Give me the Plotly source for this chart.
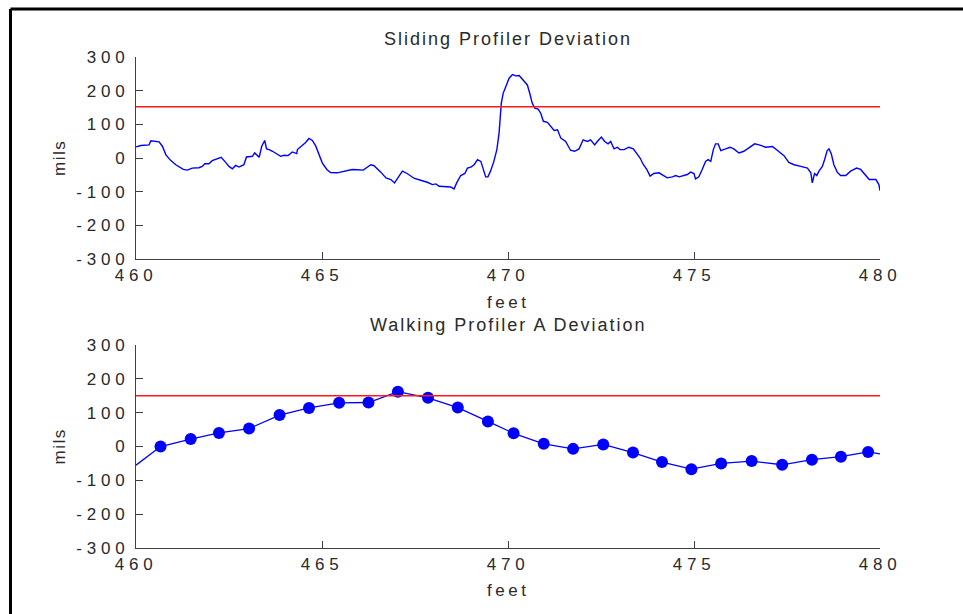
import plotly.graph_objects as go

# ---------------- data ----------------
slide_x = [460.0, 460.13, 460.35, 460.4, 460.62, 460.71, 460.8, 460.93, 461.07, 461.16, 461.27, 461.38,
           461.51, 461.69, 461.78, 461.85, 461.96, 462.05, 462.19, 462.29, 462.41, 462.5, 462.59, 462.68,
           462.77, 462.9, 462.97, 463.13, 463.19, 463.31, 463.38, 463.46, 463.51, 463.58, 463.67, 463.78,
           463.89, 463.98, 464.09, 464.2, 464.32, 464.34, 464.43, 464.56, 464.65, 464.74, 464.83, 464.92,
           465.01, 465.13, 465.23, 465.41, 465.59, 465.81, 465.95, 466.11, 466.31, 466.4, 466.58, 466.72,
           466.85, 466.95, 467.04, 467.16, 467.29, 467.47, 467.65, 467.83, 467.97, 468.06, 468.15, 468.32,
           468.46, 468.55, 468.62, 468.73, 468.84, 468.91, 469.0, 469.09, 469.18, 469.27, 469.34, 469.4,
           469.46, 469.53, 469.62, 469.7, 469.76, 469.79, 469.82, 469.87, 469.96, 470.03, 470.12, 470.21,
           470.3, 470.41, 470.52, 470.59, 470.65, 470.72, 470.81, 470.88, 470.95, 471.06, 471.15, 471.24,
           471.33, 471.42, 471.55, 471.68, 471.79, 471.91, 472.02, 472.13, 472.22, 472.33, 472.4, 472.51,
           472.6, 472.69, 472.76, 472.85, 472.94, 473.01, 473.12, 473.25, 473.37, 473.48, 473.55, 473.64,
           473.73, 473.82, 473.92, 474.06, 474.18, 474.28, 474.42, 474.51, 474.6, 474.71, 474.82, 474.91,
           475.0, 475.04, 475.13, 475.22, 475.31, 475.38, 475.45, 475.52, 475.58, 475.65, 475.72, 475.85,
           475.97, 476.07, 476.21, 476.34, 476.48, 476.63, 476.75, 476.93, 477.11, 477.24, 477.42, 477.55,
           477.69, 477.87, 478.05, 478.14, 478.18, 478.24, 478.3, 478.36, 478.45, 478.51, 478.58, 478.63,
           478.69, 478.76, 478.85, 478.94, 479.08, 479.21, 479.37, 479.48, 479.57, 479.71, 479.89, 479.97,
           480.0]
slide_y = [33, 37, 39, 51, 48, 35, 10, -7, -20, -27, -34, -36,
           -30, -29, -25, -17, -17, -8, -3, 2, -13, -25, -32, -22,
           -27, -20, 3, 5, 15, 2, 35, 52, 27, 25, 20, 13,
           5, 8, 7, 18, 13, 25, 33, 46, 58, 52, 36, 13,
           -15, -34, -43, -44, -40, -34, -35, -36, -20, -23, -42, -59,
           -64, -74, -59, -39, -46, -60, -66, -72, -79, -77, -84, -84,
           -86, -92, -74, -52, -46, -30, -27, -20, -5, -10, -35, -56,
           -56, -39, -10, 25, 74, 114, 163, 192, 217, 237, 248, 244,
           245, 232, 217, 190, 163, 148, 145, 133, 109, 106, 94, 82,
           84, 59, 49, 23, 20, 27, 54, 49, 54, 39, 49, 62,
           49, 42, 49, 27, 32, 25, 25, 32, 27, 10, 0, -20,
           -34, -54, -46, -44, -52, -59, -56, -52, -56, -52, -49, -42,
           -46, -62, -56, -34, -10, -5, -10, 25, 42, 42, 22, 27,
           32, 27, 15, 20, 30, 42, 39, 32, 34, 23, 7, -13,
           -20, -25, -30, -44, -74, -46, -52, -39, -25, -5, 22, 27,
           13, -20, -42, -52, -52, -39, -30, -34, -46, -64, -64, -79,
           -97]

walk_x = [460.66, 461.47, 462.23, 463.04, 463.86, 464.65, 465.46, 466.25, 467.04, 467.85,
          468.65, 469.46, 470.15, 470.96, 471.75, 472.56, 473.36, 474.14, 474.93, 475.73,
          476.55, 477.37, 478.17, 478.95, 479.68]
walk_y = [0, 22, 40, 53, 93, 114, 129, 130, 162, 144,
          115, 74, 39, 8, -7, 6, -18, -46, -67, -50,
          -43, -54, -39, -30, -16]
walk_edge_x = [460.0, 480.0]
walk_edge_y = [-55, -22]

threshold_top = 152
threshold_bottom = 150
x_range = [460, 480]
y_range = [-300, 300]
y_ticks = [-300, -200, -100, 0, 100, 200, 300]
y_ticktext = ["-300", "-200", "-100", "0", "100", "200", "300"]
x_ticks = [460, 465, 470, 475, 480]
x_ticktext = ["460", "465", "470", "475", "480"]

titles = ["Sliding Profiler Deviation", "Walking Profiler A Deviation"]
xlabel = "feet"
ylabel = "mils"

# ---------------- figure ----------------
W, H = 963, 614
FONT = "Liberation Sans, Arial, sans-serif"
TXT = "#2a2a2a"
AX = "#404040"
BLUE = "#0000ff"
RED = "#ff1a1a"

fig = go.Figure()

fig.add_trace(go.Scatter(x=slide_x, y=slide_y, mode="lines",
                         line=dict(color=BLUE, width=1.4), xaxis="x", yaxis="y",
                         showlegend=False, hoverinfo="skip"))
fig.add_trace(go.Scatter(x=x_range, y=[threshold_top, threshold_top], mode="lines",
                         line=dict(color=RED, width=1.5), xaxis="x", yaxis="y",
                         showlegend=False, hoverinfo="skip"))

line_x = [walk_edge_x[0]] + walk_x + [walk_edge_x[1]]
line_y = [walk_edge_y[0]] + walk_y + [walk_edge_y[1]]
fig.add_trace(go.Scatter(x=line_x, y=line_y, mode="lines",
                         line=dict(color=BLUE, width=1.3), xaxis="x2", yaxis="y2",
                         showlegend=False, hoverinfo="skip"))
fig.add_trace(go.Scatter(x=walk_x, y=walk_y, mode="markers",
                         marker=dict(color=BLUE, size=12, symbol="circle"), xaxis="x2", yaxis="y2",
                         showlegend=False))
fig.add_trace(go.Scatter(x=x_range, y=[threshold_bottom, threshold_bottom], mode="lines",
                         line=dict(color=RED, width=1.5), xaxis="x2", yaxis="y2",
                         showlegend=False, hoverinfo="skip"))

xdom = [136 / W, 880 / W]
ydom_top = [1 - 259 / H, 1 - 57 / H]
ydom_bot = [1 - 548 / H, 1 - 345 / H]

def xaxis(anchor, dom):
    return dict(domain=dom, range=x_range, tickvals=x_ticks, ticktext=x_ticktext,
                ticks="inside", ticklen=7, automargin=False,
                tickcolor=AX, showline=True, linecolor=AX, linewidth=1.2, showgrid=False,
                zeroline=False, anchor=anchor, ticklabelstandoff=0,
                tickfont=dict(family=FONT, size=17, color=TXT))

def yaxis(anchor, dom):
    return dict(domain=dom, range=y_range, tickvals=y_ticks, ticktext=y_ticktext,
                ticks="inside", ticklen=7, automargin=False,
                tickcolor=AX, showline=True, linecolor=AX, linewidth=1.2, showgrid=False,
                zeroline=False, anchor=anchor, ticklabelstandoff=2,
                tickfont=dict(family=FONT, size=17, color=TXT))

xc = (xdom[0] + xdom[1]) / 2
annotations = [
    dict(text=titles[0], x=xc, y=1 - 38.5 / H),
    dict(text=titles[1], x=xc, y=1 - 324.5 / H),
    dict(text=xlabel, x=xc, y=1 - 302 / H),
    dict(text=xlabel, x=xc, y=1 - 590 / H),
    dict(text=ylabel, x=59 / W, y=1 - 158 / H, textangle=-90),
    dict(text=ylabel, x=59 / W, y=1 - 446.5 / H, textangle=-90),
]
for a in annotations:
    a.update(xref="paper", yref="paper", showarrow=False, xanchor="center", yanchor="middle",
             font=dict(family=FONT, size=18 if "Deviation" in a["text"] else 17, color=TXT))

shapes = [
    dict(type="line", xref="paper", yref="paper", x0=10.5 / W, x1=1.0, y0=1 - 9 / H, y1=1 - 9 / H,
         line=dict(color="black", width=3)),
    dict(type="line", xref="paper", yref="paper", x0=10.5 / W, x1=10.5 / W, y0=1 - 9 / H, y1=0.0,
         line=dict(color="black", width=3)),
]

fig.update_layout(
    template="none",
    width=W, height=H, autosize=False,
    margin=dict(l=0, r=0, t=0, b=0, pad=0, autoexpand=False),
    paper_bgcolor="white", plot_bgcolor="white",
    xaxis=xaxis("y", xdom), yaxis=yaxis("x", ydom_top),
    xaxis2=xaxis("y2", xdom), yaxis2=yaxis("x2", ydom_bot),
    annotations=annotations, shapes=shapes, showlegend=False,
)

css = (
    "html,body{margin:0;padding:0;overflow:hidden;}"
    ".xtick text,.ytick text,.x2tick text,.y2tick text{letter-spacing:4.8px;}"
    ".annotation-text{letter-spacing:3.5px;}"
    ".annotation[data-index='0'] .annotation-text,.annotation[data-index='1'] .annotation-text{letter-spacing:2px;}"
    ".annotation[data-index='4'] .annotation-text,.annotation[data-index='5'] .annotation-text{letter-spacing:1.5px;}"
)
post = "var s=document.createElement('style');s.textContent=%r;document.head.appendChild(s);" % css

fig.write_html("out.html", post_script=post, config={"displayModeBar": False})
